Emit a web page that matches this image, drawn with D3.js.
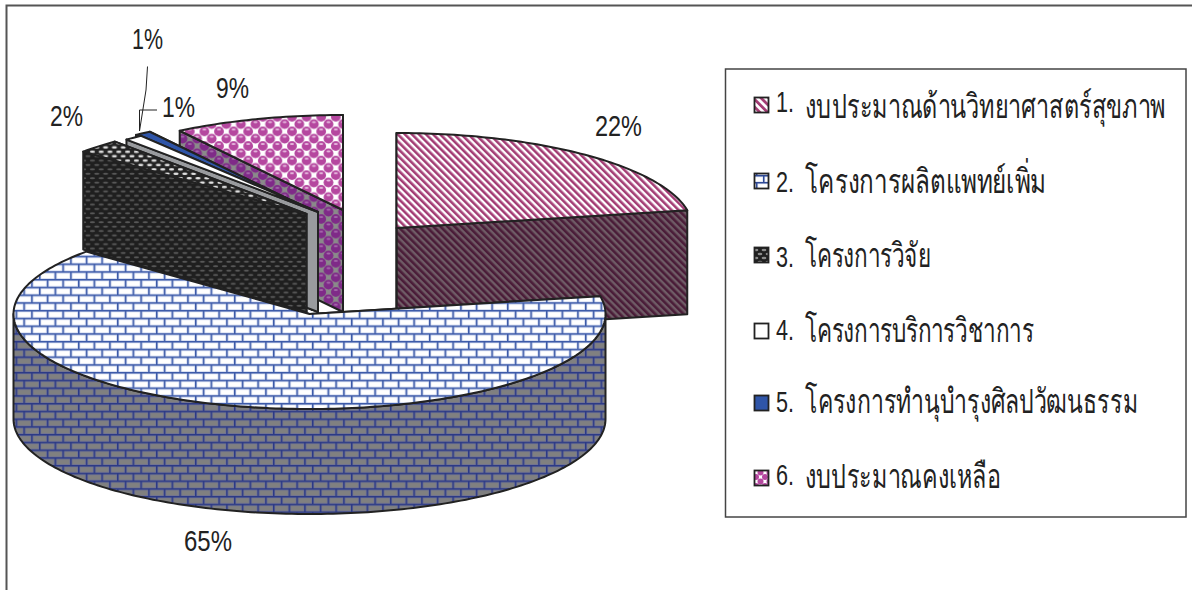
<!DOCTYPE html>
<html><head><meta charset="utf-8">
<script src="https://cdn.jsdelivr.net/npm/d3@7/dist/d3.min.js"></script>
<style>html,body{margin:0;padding:0;background:#fff}svg{display:block}
text{font-family:"Liberation Sans",Arial,"Noto Sans",sans-serif;fill:#222}</style>
</head><body><svg id="c" width="1192" height="590"></svg>
<script>
// Data
const categories=["1. งบประมาณด้านวิทยาศาสตร์สุขภาพ","2. โครงการผลิตแพทย์เพิ่ม","3. โครงการวิจัย","4. โครงการบริการวิชาการ","5. โครงการทำนุบำรุงศิลปวัฒนธรรม","6. งบประมาณคงเหลือ"];
const shares=[22,64.4,2.4,1.0,0.9,9.3];
const percentLabels=["22%","65%","2%","1%","1%","9%"];

// Layout
const W=1192,H=590,RX=296,RY=95;
const apex=[[396.5,228],[309.5,314],[306.5,214],[318,212],[313,211],[343,210]];
const depth=[104,105,98,100,99,102];
const order=[5,4,3,2,0,1];
const topFill=["url(#p0t)","url(#p1t)","url(#p2t)","#ffffff","#2f55a8","url(#p5t)"];
const sideFill=["url(#p0s)","url(#p1s)","url(#p2s)","#999b9e","#1c2c62","url(#p5s)"];
const swatch=["url(#p0l)","url(#p1l)","url(#p2l)","#ffffff","#2f55a8","url(#p5l)"];
const labelBox=[[595,136,47],[184,551,48],[50,126,33],[132,49,31],[162,117,33],[216,98,33]];
const legendDigitY=[112,192,267,340,412,485],legendThaiY=[118,193,267,342,413,488];
const legendSwatchY=[105,181,255,331,403,478];
const legendEnd=[1166,1047,933,1038,1138,1001];

const svg=d3.select("#c"),defs=svg.append("defs");
function pat(id,w,h,bg,rot){
  const p=defs.append("pattern").attr("id",id).attr("patternUnits","userSpaceOnUse").attr("width",w).attr("height",h);
  if(rot)p.attr("patternTransform",rot);
  p.append("rect").attr("width",w).attr("height",h).attr("fill",bg);return p;
}
function stripes(id,bg,fg,w,t){const p=pat(id,w,w,bg,"rotate(-45)");p.append("rect").attr("width",t).attr("height",w).attr("fill",fg);}
stripes("p0t","#ffffff","#a33c74",5,2.6);
stripes("p0s","#6f5c66","#4a1c38",5,2.6);
stripes("p0l","#ffffff","#a33c74",5.5,2.8);
function bricks(id,bg,line,bw,bh,lw,edge){
  const p=pat(id,bw,bh*2,line);
  [[0,0],[-bw/2,bh],[bw/2,bh]].forEach(([x,y])=>{
    p.append("rect").attr("x",x+lw).attr("y",y+lw).attr("width",bw-lw).attr("height",bh-lw).attr("fill",edge);
    p.append("rect").attr("x",x+lw+.7).attr("y",y+lw+.7).attr("width",bw-lw-1.4).attr("height",bh-lw-1.4).attr("fill",bg);
  });
}
bricks("p1t","#ffffff","#3c5aa8",15.6,7.75,1.5,"#c9d3ee");
bricks("p1s","#808080","#2c3a86",15.6,7.75,1.5,"#6c7096");
bricks("p1l","#ffffff","#2f4a96",14,7,1.5,"#dde3f4");
function dashes(id,bg,fg,w,h,rx,ry){
  const p=pat(id,w,h,bg);
  [[w/2,h/4],[0,h*3/4],[w,h*3/4]].forEach(([x,y])=>p.append("ellipse").attr("cx",x).attr("cy",y).attr("rx",rx).attr("ry",ry).attr("fill",fg));
}
dashes("p2t","#232323","#e4e4e4",8.8,8.8,2.6,1.2);
dashes("p2s","#1f1f1f","#5a5a5a",8.8,8.8,2.6,1);
dashes("p2l","#1f1f1f","#8a8a8a",8,8,2.4,1.2);
function spheres(id,bg,fg,hi,s,r){
  const p=pat(id,s,s,bg);
  [[0,0],[s,0],[0,s],[s,s],[s/2,s/2]].forEach(([x,y])=>{
    p.append("circle").attr("cx",x).attr("cy",y).attr("r",r).attr("fill",fg);
    p.append("ellipse").attr("cx",x).attr("cy",y-r*.42).attr("rx",r*.42).attr("ry",r*.2).attr("fill",hi);
  });
}
spheres("p5t","#ffffff","#b5479f","#e7bce0",14.6,4.9);
spheres("p5s","#8a8a8a","#7f2a88","#a46aab",14.6,4.9);
spheres("p5l","#ffffff","#b5479f","#b5479f",9,3);

const pieData=d3.pie().sort(null).value(d=>d).startAngle(0).endAngle(2*Math.PI)(shares);
const px=i=>d3.scaleLinear().domain([-1,1]).range([apex[i][0]-RX,apex[i][0]+RX]);
const py=i=>d3.scaleLinear().domain([1,-1]).range([apex[i][1]-RY,apex[i][1]+RY]);
const arcPts=(i,a0,a1,dy=0)=>{
  const x=px(i),y=py(i),n=Math.max(2,Math.ceil(Math.abs(a1-a0)/0.02)),out=[];
  for(const t of d3.range(n+1)){const a=a0+(a1-a0)*t/n;out.push([x(Math.sin(a)),y(Math.cos(a))+dy]);}
  return out;
};
const line=d3.line();
const g=svg.append("g").attr("stroke","#222").attr("stroke-width",2).attr("stroke-linejoin","round");
order.forEach(i=>{
  const s=pieData[i],A=apex[i],d=depth[i],a0=s.startAngle,a1=s.endAngle;
  const face=a=>{const e=arcPts(i,a,a)[0];return [A,e,[e[0],e[1]+d],[A[0],A[1]+d]];};
  [a1,a0].forEach(a=>g.append("path").attr("d",line(face(a))+"Z").attr("fill",sideFill[i]));
  const w0=Math.max(a0,Math.PI/2),w1=Math.min(a1,3*Math.PI/2);
  if(w1>w0){
    g.append("path").attr("d",line(arcPts(i,w0,w1).concat(arcPts(i,w1,w0,d)))+"Z").attr("fill",sideFill[i]);
  }
  g.append("path").attr("d",line([A].concat(arcPts(i,a0,a1)))+"Z").attr("fill",topFill[i]);
});

// frame & legend box
svg.append("path").attr("d","M6.5,590V5.5H1192").attr("fill","none").attr("stroke","#555").attr("stroke-width",2);
svg.append("rect").attr("x",725.5).attr("y",69).attr("width",460.5).attr("height",448).attr("fill","none").attr("stroke","#444").attr("stroke-width",1.5);

// leader lines
svg.append("path").attr("d","M147.5,66.5L146,90L139.5,131").attr("fill","none").attr("stroke","#222").attr("stroke-width",1);
svg.append("path").attr("d","M157,110H139.5V131").attr("fill","none").attr("stroke","#222").attr("stroke-width",1);

// text squeezed horizontally to a measured width
function fitted(parent,str,x,y,size,width){
  const t=parent.append("text").attr("font-size",size).text(str);
  const natural=t.node().getComputedTextLength();
  t.attr("transform",`translate(${x},${y}) scale(${width/natural},1)`);
  return t;
}
percentLabels.forEach((d,i)=>fitted(svg,d,labelBox[i][0],labelBox[i][1],29,labelBox[i][2]));

// legend
const lg=svg.append("g");
categories.forEach((c,i)=>{
  const [num,...rest]=c.split(" ");
  lg.append("rect").attr("x",754.5).attr("y",legendSwatchY[i]-7.5).attr("width",14).attr("height",15)
    .attr("fill",swatch[i]).attr("stroke","#222").attr("stroke-width",1.8);
  fitted(lg,num,776,legendDigitY[i],29,18);
  fitted(lg,rest.join(" "),805,legendThaiY[i],34,legendEnd[i]-805);
});
</script></body></html>
